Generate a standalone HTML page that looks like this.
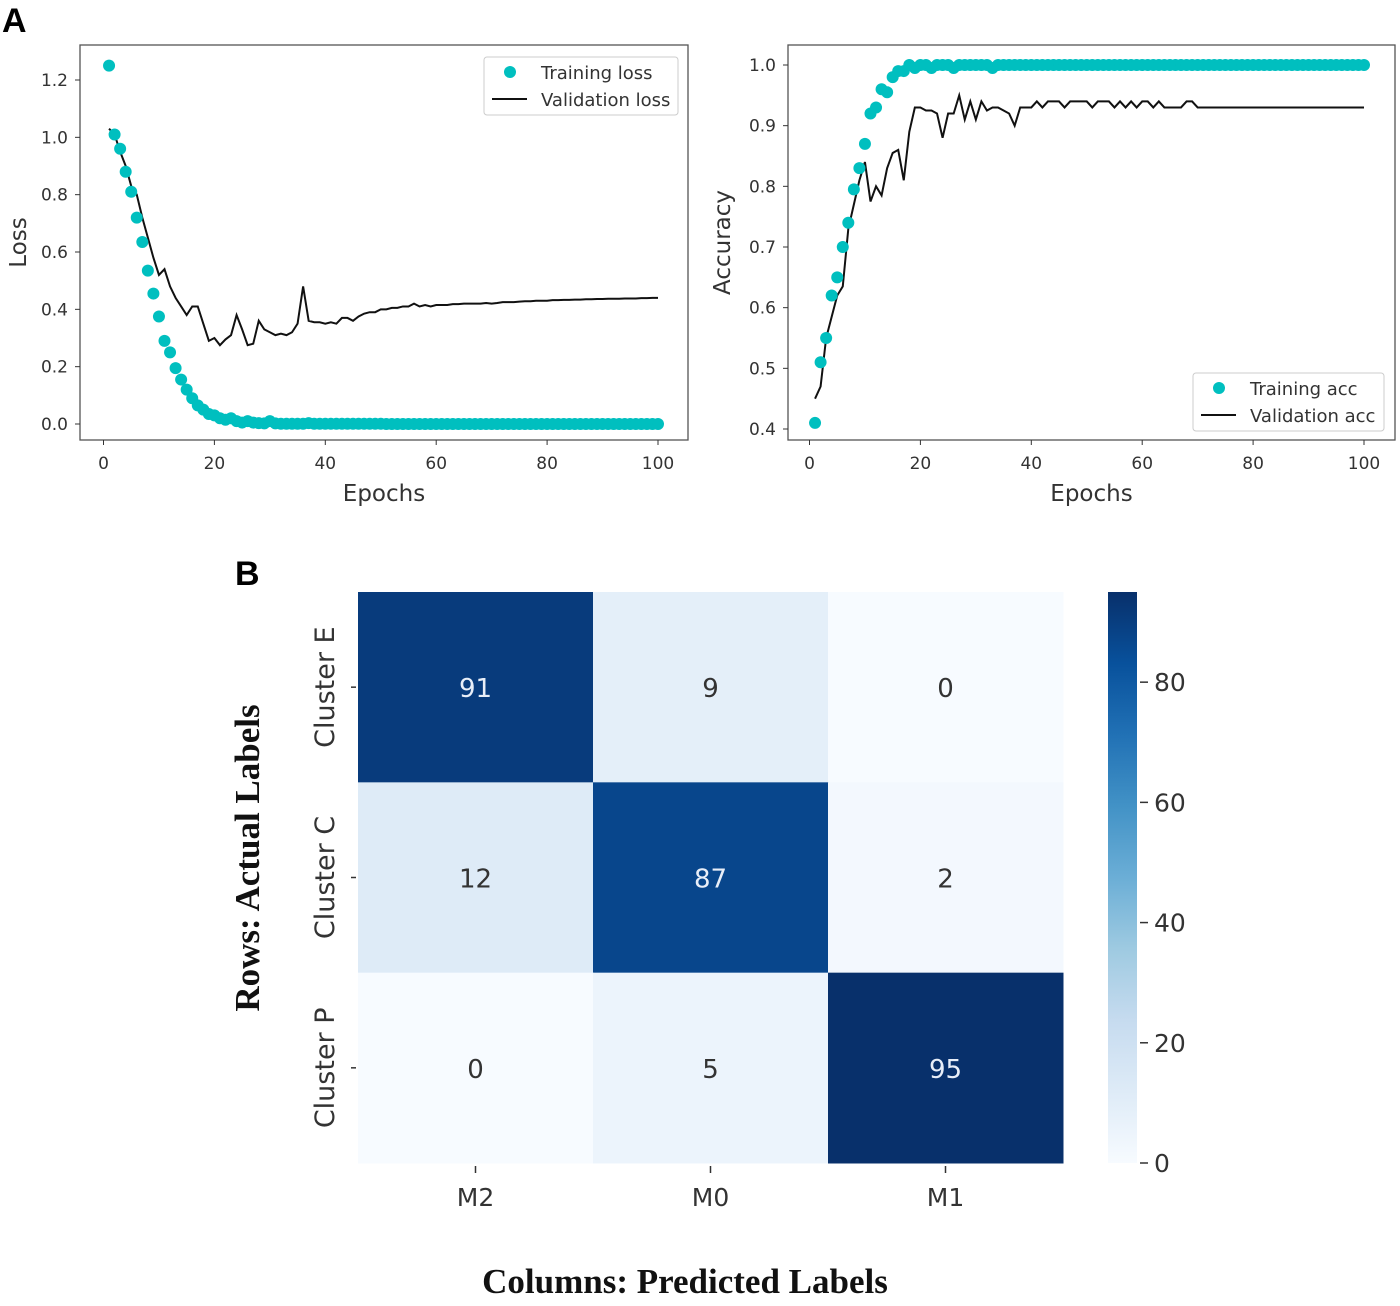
<!DOCTYPE html>
<html><head><meta charset="utf-8"><style>
body{margin:0;background:#fff}
svg text{font-family:"DejaVu Sans","Liberation Sans",sans-serif}
svg text.serif{font-family:"Liberation Serif",serif}
svg text.bold{font-family:"Liberation Sans",sans-serif}
</style></head><body>
<svg id="s" width="1400" height="1301" viewBox="0 0 1400 1301" xmlns="http://www.w3.org/2000/svg">
<text class="bold" x="2" y="32" font-size="34" font-weight="bold">A</text>
<text class="bold" x="235" y="585" font-size="34" font-weight="bold">B</text>
<g id="loss"></g>
<g id="acc"></g>
<g id="hm"></g>
</svg>
<script>
const NS="http://www.w3.org/2000/svg";
const epochs=[];for(let i=1;i<=100;i++)epochs.push(i);
const trainLoss=[1.25,1.01,0.96,0.88,0.81,0.72,0.635,0.535,0.455,0.375,0.29,0.25,0.195,0.155,0.12,0.09,0.065,0.05,0.035,0.03,0.02,0.015,0.02,0.01,0.005,0.01,0.005,0.003,0.002,0.01,0.002,0.001,0.001,0.001,0.001,0.001,0.003,0.001,0.001,0.001,0.001,0.001,0.001,0.001,0.001,0.001,0.001,0.001,0.001,0.001,0,0,0,0,0,0,0,0,0,0,0,0,0,0,0,0,0,0,0,0,0,0,0,0,0,0,0,0,0,0,0,0,0,0,0,0,0,0,0,0,0,0,0,0,0,0,0,0,0,0];
const valLoss=[1.03,1.01,0.95,0.9,0.83,0.8,0.72,0.65,0.58,0.52,0.54,0.48,0.44,0.41,0.38,0.41,0.41,0.35,0.29,0.3,0.275,0.295,0.31,0.38,0.33,0.275,0.28,0.36,0.33,0.32,0.31,0.315,0.31,0.32,0.35,0.48,0.36,0.355,0.355,0.35,0.355,0.35,0.37,0.37,0.36,0.375,0.385,0.39,0.39,0.4,0.4,0.405,0.405,0.41,0.41,0.42,0.41,0.415,0.41,0.415,0.415,0.415,0.418,0.418,0.42,0.42,0.42,0.42,0.422,0.42,0.422,0.425,0.425,0.425,0.427,0.428,0.428,0.43,0.43,0.43,0.432,0.432,0.433,0.433,0.434,0.434,0.435,0.435,0.436,0.436,0.437,0.437,0.437,0.438,0.438,0.438,0.439,0.439,0.44,0.44];
const trainAcc=[0.41,0.51,0.55,0.62,0.65,0.7,0.74,0.795,0.83,0.87,0.92,0.93,0.96,0.955,0.98,0.99,0.99,1,0.995,1,1,0.995,1,1,1,0.995,1,1,1,1,1,1,0.995,1,1,1,1,1,1,1,1,1,1,1,1,1,1,1,1,1,1,1,1,1,1,1,1,1,1,1,1,1,1,1,1,1,1,1,1,1,1,1,1,1,1,1,1,1,1,1,1,1,1,1,1,1,1,1,1,1,1,1,1,1,1,1,1,1,1,1];
const valAcc=[0.45,0.47,0.55,0.585,0.62,0.635,0.73,0.77,0.81,0.84,0.775,0.8,0.785,0.83,0.855,0.86,0.81,0.89,0.93,0.93,0.925,0.925,0.92,0.88,0.92,0.92,0.95,0.91,0.94,0.91,0.94,0.925,0.93,0.93,0.925,0.92,0.9,0.93,0.93,0.93,0.94,0.93,0.94,0.94,0.94,0.93,0.94,0.94,0.94,0.94,0.93,0.94,0.94,0.94,0.93,0.94,0.93,0.94,0.93,0.94,0.94,0.93,0.94,0.93,0.93,0.93,0.93,0.94,0.94,0.93,0.93,0.93,0.93,0.93,0.93,0.93,0.93,0.93,0.93,0.93,0.93,0.93,0.93,0.93,0.93,0.93,0.93,0.93,0.93,0.93,0.93,0.93,0.93,0.93,0.93,0.93,0.93,0.93,0.93,0.93];
const xTicks=[0,20,40,60,80,100];
const lossTicks=[0,0.2,0.4,0.6,0.8,1.0,1.2];
const accTicks=[0.4,0.5,0.6,0.7,0.8,0.9,1.0];
const rowLabels=["Cluster E","Cluster C","Cluster P"];
const colLabels=["M2","M0","M1"];
const matrix=[[91,9,0],[12,87,2],[0,5,95]];
const cbTicks=[0,20,40,60,80];

function mk(p,tag,a,txt){const e=document.createElementNS(NS,tag);for(const k in a)e.setAttribute(k,a[k]);if(txt!==undefined)e.textContent=txt;p.appendChild(e);return e;}

function lineChart(g,cfg){
  const {L,R,T,B,x0,x1,xp0,xp1,y0,y1,yp0,yp1}=cfg;
  const X=v=>xp0+(v-x0)/(x1-x0)*(xp1-xp0);
  const Y=v=>yp0+(v-y0)/(y1-y0)*(yp1-yp0);
  let r=mk(g,'rect',{x:L,y:T,width:R-L,height:B-T,fill:'#fff',stroke:'#555','stroke-width':1.3});
  
  xTicks.forEach(t=>{mk(g,'line',{x1:X(t),x2:X(t),y1:B,y2:B+5,stroke:'#333'});
    const e=mk(g,'text',{x:X(t),y:B+29,'font-size':17,'text-anchor':'middle',fill:'#333'},t);
    });
  cfg.yt.forEach(t=>{mk(g,'line',{x1:L-5,x2:L,y1:Y(t),y2:Y(t),stroke:'#333'});
    const e=mk(g,'text',{x:L-12,y:Y(t)+6,'font-size':17,'text-anchor':'end',fill:'#333'},t.toFixed(1));
    });
  let e=mk(g,'text',{x:(L+R)/2,y:B+61,'font-size':23,'text-anchor':'middle',fill:'#333'},'Epochs');
  
  e=mk(g,'text',{x:0,y:0,'font-size':23,'text-anchor':'middle',fill:'#333',transform:`translate(${cfg.yl},${(T+B)/2}) rotate(-90)`},cfg.ytitle);
  
  const pts=epochs.map((ep,i)=>X(ep)+','+Y(cfg.val[i])).join(' ');
  e=mk(g,'polyline',{points:pts,fill:'none',stroke:'#111','stroke-width':2});
  
  epochs.forEach((ep,i)=>{const c=mk(g,'circle',{cx:X(ep),cy:Y(cfg.tr[i]),r:6,fill:'#00bfbf'});
    });
  const lg=cfg.lg;
  const lgg=mk(g,'g',{});
  mk(lgg,'rect',{x:lg.x,y:lg.y,width:lg.w,height:58,rx:3,fill:'#fff',stroke:'#ccc'});
  mk(lgg,'circle',{cx:lg.x+26,cy:lg.y+15,r:6,fill:'#00bfbf'});
  mk(lgg,'line',{x1:lg.x+8,x2:lg.x+43,y1:lg.y+42,y2:lg.y+42,stroke:'#111','stroke-width':2});
  e=mk(lgg,'text',{x:lg.x+57,y:lg.y+22,'font-size':18,fill:'#333'},cfg.n1);
  e=mk(lgg,'text',{x:lg.x+57,y:lg.y+49,'font-size':18,fill:'#333'},cfg.n2);
}
lineChart(document.getElementById('loss'),{L:80,R:688,T:45,B:440,x0:0,x1:100,xp0:103.5,xp1:658,y0:0,y1:1.2,yp0:424,yp1:80,yt:lossTicks,tr:trainLoss,val:valLoss,ytitle:'Loss',yl:26,lg:{x:484,y:57,w:194},n1:'Training loss',n2:'Validation loss'});
lineChart(document.getElementById('acc'),{L:788,R:1395,T:45,B:440,x0:0,x1:100,xp0:809.5,xp1:1364,y0:0.4,y1:1.0,yp0:429,yp1:65,yt:accTicks,tr:trainAcc,val:valAcc,ytitle:'Accuracy',yl:730,lg:{x:1193,y:373,w:191},n1:'Training acc',n2:'Validation acc'});

const stops=['#f7fbff','#deebf7','#c6dbef','#9ecae1','#6baed6','#4292c6','#2171b5','#08519c','#08306b'];
function blues(t){t=Math.max(0,Math.min(1,t));const f=t*8,i=Math.min(7,Math.floor(f)),u=f-i;
  const a=stops[i],b=stops[i+1];const c=k=>Math.round(parseInt(a.substr(k,2),16)*(1-u)+parseInt(b.substr(k,2),16)*u);
  return `rgb(${c(1)},${c(3)},${c(5)})`;}
const hm=document.getElementById('hm');
const HX0=358,HX1=1063,HY0=592,HY1=1163,vmax=95;
const cw=(HX1-HX0)/3,ch=(HY1-HY0)/3;
matrix.forEach((row,r)=>row.forEach((v,c)=>{
  const e=mk(hm,'rect',{x:HX0+c*cw,y:HY0+r*ch,width:cw+0.5,height:ch+0.5,fill:blues(v/vmax)});
  
  const t=mk(hm,'text',{x:HX0+c*cw+cw/2,y:HY0+r*ch+ch/2+10,'font-size':26,'text-anchor':'middle',fill:v>50?'#e8eef8':'#333'},v);
  
}));
rowLabels.forEach((l,r)=>{const cy=HY0+r*ch+ch/2;
  mk(hm,'line',{x1:HX0-7,x2:HX0-2,y1:cy,y2:cy,stroke:'#333','stroke-width':1.5});
  const e=mk(hm,'text',{x:0,y:0,'font-size':27,'text-anchor':'middle',fill:'#333',transform:`translate(${334},${cy}) rotate(-90)`},l);
  });
colLabels.forEach((l,c)=>{const cx=HX0+c*cw+cw/2;
  mk(hm,'line',{x1:cx,x2:cx,y1:HY1+3,y2:HY1+10,stroke:'#333','stroke-width':1.5});
  const e=mk(hm,'text',{x:cx,y:1206,'font-size':25,'text-anchor':'middle',fill:'#333'},l);
  });
const defs=mk(hm,'defs',{});const gr=mk(defs,'linearGradient',{id:'cb',x1:0,y1:1,x2:0,y2:0});
stops.forEach((s,i)=>mk(gr,'stop',{offset:(i/8),'stop-color':s}));
const CBX=1108,CBW=29;
let e=mk(hm,'rect',{x:CBX,y:HY0,width:CBW,height:HY1-HY0,fill:'url(#cb)'});

const CY=v=>HY1-(v/vmax)*(HY1-HY0);
cbTicks.forEach(t=>{const y=Math.min(CY(t),HY1+4);
  mk(hm,'line',{x1:CBX+CBW+3,x2:CBX+CBW+11,y1:y,y2:y,stroke:'#333','stroke-width':1.5});
  const e=mk(hm,'text',{x:CBX+CBW+17,y:y+9,'font-size':25,fill:'#333'},t);
  });
e=mk(hm,'text',{class:'serif',x:0,y:0,'font-size':35,'font-weight':'bold','text-anchor':'middle',fill:'#111',transform:'translate(259,858) rotate(-90)'},'Rows: Actual Labels');

e=mk(hm,'text',{class:'serif',x:685,y:1293,'font-size':35,'font-weight':'bold','text-anchor':'middle',fill:'#111'},'Columns: Predicted Labels');

</script>
</body></html>
